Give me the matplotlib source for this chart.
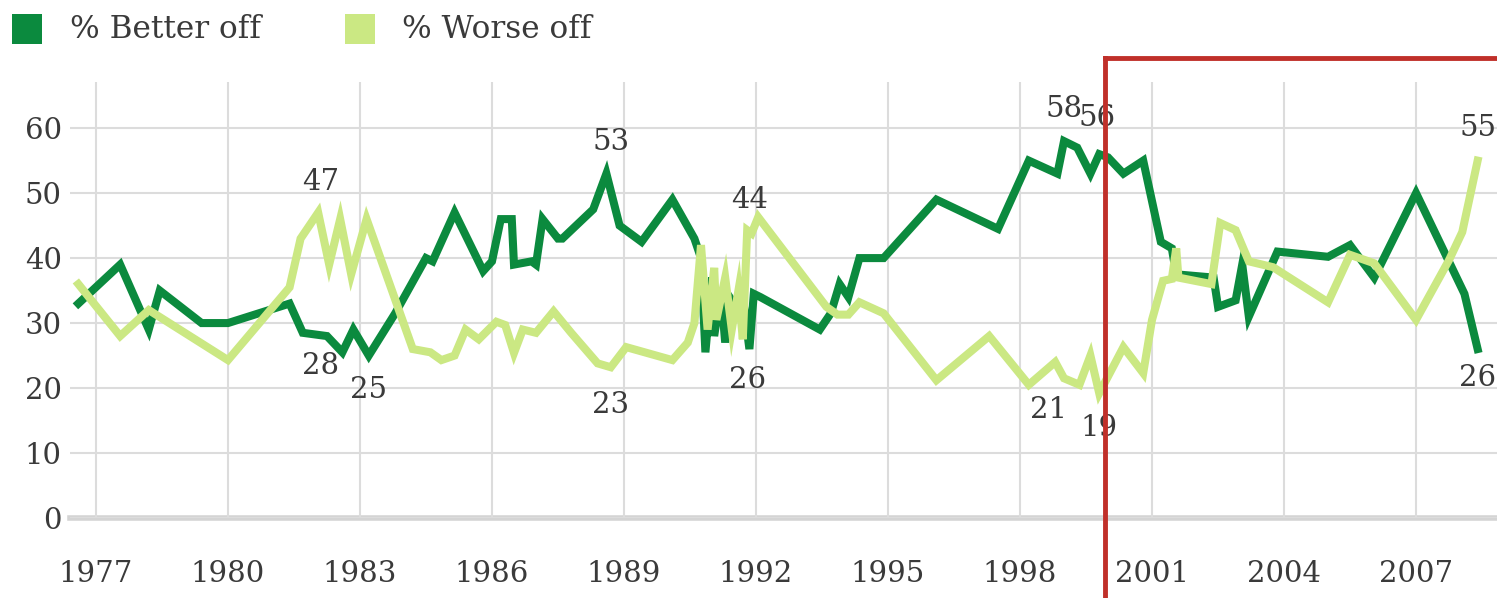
import matplotlib
matplotlib.use("Agg")
import matplotlib.pyplot as plt
from matplotlib.lines import Line2D
from matplotlib.patches import Rectangle

# values
better_years = [1976.6, 1977.55, 1978.2, 1978.45, 1979.4, 1980.0, 1981.4, 1981.7, 1982.25, 1982.6,
                1982.85, 1983.2, 1983.8, 1984.5, 1984.65, 1985.15, 1985.8, 1986.0, 1986.2, 1986.45,
                1986.5, 1986.9, 1987.0, 1987.15, 1987.5, 1987.6, 1988.3, 1988.6, 1988.9, 1989.4,
                1990.1, 1990.6, 1990.75, 1990.85, 1991.0, 1991.05, 1991.2, 1991.3, 1991.4, 1991.5,
                1991.7, 1991.85, 1991.95, 1992.1, 1993.45, 1993.7, 1993.9, 1994.1, 1994.35, 1994.9,
                1996.1, 1997.5, 1998.2, 1998.85, 1999.0, 1999.3, 1999.6, 1999.8, 2000.0, 2000.35,
                2000.8, 2001.2, 2001.45, 2001.55, 2002.4, 2002.5, 2002.9, 2003.05, 2003.2, 2003.85,
                2005.0, 2005.5, 2006.05, 2007.0, 2008.1, 2008.4]
better_vals = [33, 39, 29, 35, 30, 30, 33, 28.5, 28, 25.5,
               29, 25, 31.5, 40, 39.5, 47, 38, 39.5, 46, 46,
               39, 39.5, 39, 46, 43, 43, 47.5, 53, 45, 42.5,
               49, 43, 40, 25.5, 37, 28, 35, 27, 34, 33,
               34, 26, 34.5, 34, 29, 31.5, 36, 34, 40, 40,
               49, 44.5, 55, 53, 58, 57, 53, 56, 55.5, 53,
               55, 42.5, 41.5, 37.5, 37, 32.5, 33.5, 39, 31, 41,
               40.2, 42, 37, 50, 34.5, 26]

worse_years = [1976.6, 1977.55, 1978.2, 1980.0, 1981.4, 1981.65, 1982.05, 1982.3, 1982.55, 1982.8,
               1983.15, 1984.2, 1984.6, 1984.85, 1985.15, 1985.4, 1985.7, 1986.1, 1986.3, 1986.5,
               1986.7, 1987.0, 1987.4, 1987.8, 1988.4, 1988.7, 1989.05, 1990.1, 1990.45, 1990.6,
               1990.75, 1990.9, 1991.05, 1991.1, 1991.3, 1991.45, 1991.6, 1991.7, 1991.8, 1991.9,
               1992.05, 1993.6, 1993.85, 1994.1, 1994.35, 1994.9, 1996.1, 1997.3, 1998.2, 1998.8,
               1999.0, 1999.35, 1999.6, 1999.8, 2000.35, 2000.8, 2001.0, 2001.25, 2001.45, 2001.55,
               2001.6, 2002.35, 2002.55, 2002.9, 2003.2, 2003.75, 2005.0, 2005.5, 2006.05, 2007.0,
               2007.75, 2008.05, 2008.4]
worse_vals = [36, 28, 32, 24.3, 35.5, 43, 47, 39, 46, 37.5,
              46, 26, 25.5, 24.3, 25, 29, 27.5, 30.2, 29.7, 25.4,
              29, 28.5, 31.8, 28.5, 23.8, 23.2, 26.3, 24.3, 27, 30,
              42, 29, 38.5, 30.5, 37, 29, 35, 27.5, 44.3, 43.8,
              46.3, 32.5, 31.3, 31.3, 33.2, 31.5, 21.2, 28, 20.5, 24,
              21.5, 20.5, 25, 19.2, 26.3, 22.3, 30.5, 36.5, 36.8, 41.5,
              37, 36, 45.4, 44.3, 39.5, 38.6, 33.2, 40.5, 39.2, 30.5,
              39.7, 44, 55]

# callouts: (year, value, text)
label_years = [1982.1, 1982.1, 1983.2, 1988.7, 1988.7, 1991.85, 1991.8, 1999.0, 1999.75, 1998.65, 1999.8, 2008.4, 2008.4]
label_vals = [51.7, 23.4, 19.7, 57.8, 17.4, 48.9, 21.2, 63.0, 61.5, 16.6, 13.8, 60.0, 21.5]
label_texts = ["47", "28", "25", "53", "23", "44", "26", "58", "56", "21", "19", "55", "26"]

year_ticks = list(range(1977, 2008, 3))
value_ticks = list(range(0, 61, 10))

dark = "#0b8a3e"
light = "#cbe883"
text_col = "#3a3a3a"
serif = ["DejaVu Serif", "Liberation Serif"]

plt.rcParams["font.family"] = serif

fig = plt.figure(figsize=(14.97, 5.98), dpi=100)
ax = fig.add_axes([70 / 1497, 80 / 598, 1 - 70 / 1497, (518 - 82) / 598])

ax.plot(better_years, better_vals, color=dark, lw=5.8, solid_joinstyle="miter", zorder=3)
ax.plot(worse_years, worse_vals, color=light, lw=5.8, solid_joinstyle="miter", zorder=4)

for x, y, t in zip(label_years, label_vals, label_texts):
    ax.text(x, y, t, ha="center", va="center", fontsize=21, color=text_col, zorder=5)

ax.set_xlim(1976.41, 2008.84)
ax.set_ylim(0, 67.1)
ax.set_xticks(year_ticks)
ax.set_yticks(value_ticks)
ax.set_xticklabels([str(y) for y in year_ticks])
ax.tick_params(axis="both", length=0, labelsize=21, colors=text_col)
ax.tick_params(axis="x", pad=30)
ax.tick_params(axis="y", pad=6)
ax.grid(True, color="#dcdcdc", lw=1.5, zorder=0)
for s in ax.spines.values():
    s.set_visible(False)
ax.axhline(0, color="#d4d4d4", lw=4, zorder=1, clip_on=False)

# legend
fig.add_artist(Rectangle((12 / 1497, 1 - 44 / 598), 30 / 1497, 30 / 598, transform=fig.transFigure,
                         color=dark, lw=0))
fig.text(70 / 1497, 1 - 29 / 598, "% Better off", ha="left", va="center", fontsize=22.5, color=text_col)
fig.add_artist(Rectangle((345 / 1497, 1 - 44 / 598), 30 / 1497, 30 / 598, transform=fig.transFigure,
                         color=light, lw=0))
fig.text(402 / 1497, 1 - 29 / 598, "% Worse off", ha="left", va="center", fontsize=22.5, color=text_col)

# red highlight box
red = "#c0302a"
fig.add_artist(Line2D([1105 / 1497, 1105 / 1497], [-0.02, 1 - 58 / 598], transform=fig.transFigure,
                      color=red, lw=3.5, solid_capstyle="projecting"))
fig.add_artist(Line2D([1105 / 1497, 1.02], [1 - 58 / 598, 1 - 58 / 598], transform=fig.transFigure,
                      color=red, lw=3.5, solid_capstyle="projecting"))

fig.savefig("out.png", dpi=100)
